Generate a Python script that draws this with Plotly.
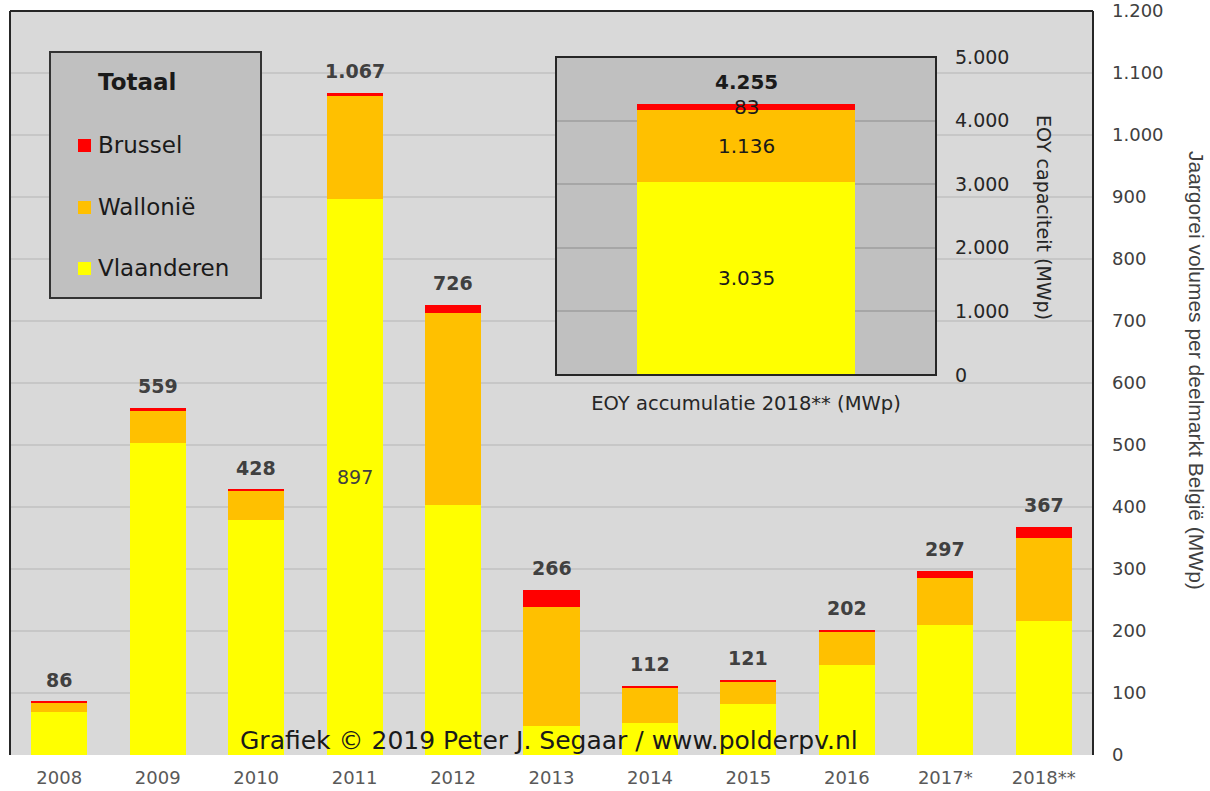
import plotly.graph_objects as go

# Jaarvolumes per deelmarkt (MWp)
years = ["2008", "2009", "2010", "2011", "2012", "2013", "2014", "2015", "2016", "2017*", "2018**"]
vlaanderen = [70, 503, 379, 897, 403, 47, 52, 82, 145, 210, 216]
wallonie = [14, 52, 47, 167, 310, 192, 57, 36, 53, 76, 134]
brussel = [2, 4, 2, 3, 13, 27, 3, 3, 4, 11, 17]

# Geaccumuleerde capaciteit eind 2018 (MWp)
eoy_category = ["EOY accumulatie 2018** (MWp)"]
eoy_vlaanderen = [3035]
eoy_wallonie = [1136]
eoy_brussel = [83]
eoy_total = 4255

main_ticks = list(range(0, 1300, 100))
eoy_ticks = list(range(0, 6000, 1000))

YELLOW, ORANGE, RED = "#FFFF00", "#FFC000", "#FF0000"
W, H = 1210, 791
L, R, T, B = 10, 117, 11, 36
PW, PH = W - L - R, H - T - B
FONT = "DejaVu Sans"


def px(x):
    return (x - L) / PW


def py(y):
    return 1 - (y - T) / PH


def nl(v):
    return f"{v:,}".replace(",", ".")


totals = [v + w + b for v, w, b in zip(vlaanderen, wallonie, brussel)]

fig = go.Figure()
for name, vals, col in [("Vlaanderen", vlaanderen, YELLOW),
                        ("Wallonië", wallonie, ORANGE),
                        ("Brussel", brussel, RED)]:
    fig.add_trace(go.Bar(x=years, y=vals, name=name, marker=dict(color=col, line=dict(width=0)),
                         width=0.57, xaxis="x", yaxis="y", showlegend=False))

for name, vals, col in [("Vlaanderen", eoy_vlaanderen, YELLOW),
                        ("Wallonië", eoy_wallonie, ORANGE),
                        ("Brussel", eoy_brussel, RED)]:
    fig.add_trace(go.Bar(x=eoy_category, y=vals, name=name, marker=dict(color=col, line=dict(width=0)),
                         width=0.574, xaxis="x2", yaxis="y2", showlegend=False))

shapes = []
# plot background and grid of the main chart
shapes.append(dict(type="rect", xref="paper", yref="paper", x0=0, x1=1, y0=0, y1=1,
                   fillcolor="#D9D9D9", line=dict(width=0), layer="below"))
for v in main_ticks[1:]:
    shapes.append(dict(type="line", xref="paper", yref="y", x0=0, x1=1, y0=v, y1=v,
                       line=dict(color="#C0C0C0", width=1.5), layer="below"))
# frame: left, top, right
for x0, y0, x1, y1 in [(0, 0, 0, 1), (0, 1, 1, 1), (1, 0, 1, 1)]:
    shapes.append(dict(type="line", xref="paper", yref="paper", x0=x0, y0=y0, x1=x1, y1=y1,
                       line=dict(color="#262626", width=2), layer="above"))

# inset panel
ix0, ix1, iy0, iy1 = 556, 936, 57, 375
shapes.append(dict(type="rect", xref="paper", yref="paper", x0=px(ix0), x1=px(ix1), y0=py(iy1), y1=py(iy0),
                   fillcolor="#C0C0C0", line=dict(width=0), layer="below"))
shapes.append(dict(type="rect", xref="paper", yref="paper", x0=px(ix0), x1=px(ix1), y0=py(iy1), y1=py(iy0),
                   fillcolor="rgba(0,0,0,0)", line=dict(color="#262626", width=2), layer="above"))

# legend box
shapes.append(dict(type="rect", xref="paper", yref="paper", x0=px(50), x1=px(261), y0=py(298), y1=py(52),
                   fillcolor="#C0C0C0", line=dict(color="#333333", width=2), layer="above"))
legend_items = [("Brussel", RED, 145), ("Wallonië", ORANGE, 207), ("Vlaanderen", YELLOW, 268)]
annotations = []
for name, col, yc in legend_items:
    shapes.append(dict(type="rect", xref="paper", yref="paper", x0=px(78), x1=px(91),
                       y0=py(yc + 7), y1=py(yc - 6), fillcolor=col, line=dict(width=0), layer="above"))
    annotations.append(dict(xref="paper", yref="paper", x=px(96), y=py(yc), text=name, showarrow=False,
                            xanchor="left", yanchor="middle",
                            font=dict(family=FONT, size=23, color="#1a1a1a")))
annotations.append(dict(xref="paper", yref="paper", x=px(96), y=py(82), text="<b>Totaal</b>", showarrow=False,
                        xanchor="left", yanchor="middle", font=dict(family=FONT, size=23, color="#1a1a1a")))

# totals above bars (category axis: position by index)
for i, tot in enumerate(totals):
    annotations.append(dict(x=i, y=tot, xref="x", yref="y", text=f"<b>{nl(tot)}</b>", showarrow=False,
                            xanchor="center", yanchor="middle", yshift=22,
                            font=dict(family=FONT, size=19, color="#404040")))
# segment label inside 2011
i11 = years.index("2011")
annotations.append(dict(x=i11, y=vlaanderen[i11] / 2, xref="x", yref="y", text=nl(vlaanderen[i11]),
                        showarrow=False, xanchor="center", yanchor="middle",
                        font=dict(family=FONT, size=19, color="#404040")))

# inset labels
v, w, b = eoy_vlaanderen[0], eoy_wallonie[0], eoy_brussel[0]
for val, ymid in [(v, v / 2), (w, v + w / 2), (b, v + w + b / 2)]:
    annotations.append(dict(x=0, y=ymid, xref="x2", yref="y2", text=nl(val), showarrow=False,
                            xanchor="center", yanchor="middle",
                            font=dict(family=FONT, size=20, color="#1a1a1a")))
annotations.append(dict(x=0, y=eoy_total, xref="x2", yref="y2", text=f"<b>{nl(eoy_total)}</b>",
                        showarrow=False, xanchor="center", yanchor="middle", yshift=22,
                        font=dict(family=FONT, size=20, color="#1a1a1a")))

# axis titles
annotations.append(dict(xref="paper", yref="paper", x=px(1197), y=py(370), showarrow=False, textangle=90,
                        xanchor="center", yanchor="middle",
                        text="Jaargorei volumes per deelmarkt België (MWp)",
                        font=dict(family="Liberation Sans", size=21, color="#404040")))
annotations.append(dict(xref="paper", yref="paper", x=px(1044), y=py(217), showarrow=False, textangle=90,
                        xanchor="center", yanchor="middle",
                        text="EOY capaciteit (MWp)", font=dict(family=FONT, size=19, color="#262626")))

# credit line
annotations.append(dict(xref="paper", yref="paper", x=px(549), y=py(740), showarrow=False,
                        xanchor="center", yanchor="middle",
                        text="Grafiek © 2019 Peter J. Segaar / www.polderpv.nl",
                        font=dict(family=FONT, size=25, color="#1a1a1a")))

fig.update_layout(
    width=W, height=H,
    margin=dict(l=L, r=R, t=T, b=B, pad=0, autoexpand=False),
    paper_bgcolor="white", plot_bgcolor="rgba(0,0,0,0)",
    barmode="stack",
    showlegend=False,
    shapes=shapes, annotations=annotations,
    xaxis=dict(domain=[0, 1], type="category", range=[-0.5, len(years) - 0.5], showgrid=False,
               zeroline=False, showline=False, ticks="", ticklabelstandoff=10, automargin=False,
               tickfont=dict(family=FONT, size=18, color="#595959")),
    yaxis=dict(domain=[0, 1], range=[0, 1200], side="right", showgrid=False, zeroline=False,
               showline=False, ticks="", tickvals=main_ticks, ticktext=[nl(t) for t in main_ticks],
               ticklabelstandoff=18, automargin=False,
               tickfont=dict(family=FONT, size=18, color="#404040")),
    xaxis2=dict(domain=[px(ix0), px(ix1)], anchor="y2", type="category", range=[-0.5, 0.5],
                showgrid=False, zeroline=False, showline=False, ticks="", ticklabelstandoff=14,
                automargin=False, tickfont=dict(family=FONT, size=19.5, color="#262626")),
    yaxis2=dict(domain=[py(iy1), py(iy0)], anchor="x2", side="right", range=[0, 5000],
                showgrid=True, gridcolor="#A6A6A6", gridwidth=1.5, zeroline=False, showline=False,
                ticks="", tickvals=eoy_ticks, ticktext=[nl(t) for t in eoy_ticks],
                ticklabelstandoff=18, automargin=False,
                tickfont=dict(family=FONT, size=19, color="#262626")),
)

fig.write_html("out.html")
